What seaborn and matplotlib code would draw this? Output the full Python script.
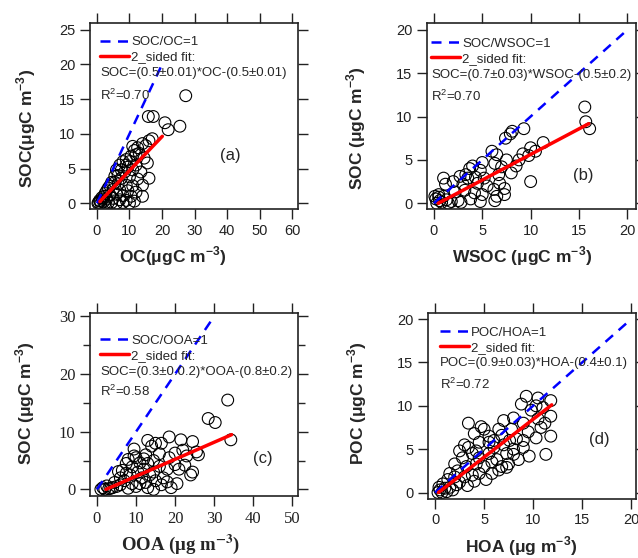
import numpy as np
import matplotlib
matplotlib.use("Agg")
import matplotlib.pyplot as plt
import seaborn as sns
from matplotlib.lines import Line2D
from matplotlib.ticker import MultipleLocator

# ---- data ----
# (a) SOC vs OC
oc_x = [27.3, 15.8, 17.3, 20.9, 21.9, 25.5, 17.0, 16.0, 14.0, 15.0, 11.0, 11.5, 13.0, 12.0, 9.0, 8.0,
        10.0, 14.5, 15.5, 7.0, 9.5, 12.0, 6.0, 8.5, 11.0, 13.5, 5.5, 7.5, 10.0, 12.5, 16.0, 4.5, 6.5,
        9.0, 11.0, 14.0, 3.5, 5.0, 7.0, 9.5, 12.0, 2.5, 4.0, 6.0, 8.0, 10.5, 14.0, 1.5, 3.0, 5.0, 7.0,
        9.0, 11.5, 1.0, 2.0, 3.5, 0.5, 0.8, 1.2, 2.5, 4.5, 6.0, 8.0, 10.0, 0.3, 1.8, 3.0, 2.2, 4.0,
        5.5, 6.5, 7.5, 9.0, 10.5, 12.5]
oc_soc = [15.5, 12.5, 12.5, 11.6, 10.6, 11.1, 9.3, 9.0, 8.6, 8.3, 8.2, 7.6, 7.2, 7.0, 6.3, 6.0,
          6.0, 6.5, 5.8, 5.5, 5.2, 5.5, 4.8, 4.5, 4.8, 4.5, 3.9, 3.6, 3.8, 3.5, 3.6, 3.0, 2.8,
          2.6, 2.5, 2.6, 2.2, 2.0, 1.9, 1.8, 1.6, 1.4, 1.2, 1.3, 1.1, 1.0, 1.0, 0.8, 0.6, 0.7, 0.5,
          0.4, 0.3, 0.3, 0.2, 0.1, 0.1, 0.4, 0.0, 0.0, 0.1, 0.0, 0.1, 0.0, 0.0, 0.6, 1.8, 1.0, 2.5,
          3.0, 4.0, 4.8, 5.5, 6.8, 8.0]

# (b) SOC vs WSOC
wsoc_x = [15.6, 15.7, 16.1, 9.3, 8.1, 7.9, 7.4, 11.3, 10.0, 10.5, 9.2, 6.0, 6.5, 7.5, 8.8, 9.8,
          5.0, 4.0, 3.7, 4.8, 6.3, 7.0, 8.5, 2.7, 3.3, 3.5, 4.3, 5.2, 6.7, 8.0, 1.0, 1.2, 2.0, 3.0,
          4.5, 5.5, 6.8, 7.3, 10.0, 0.5, 1.0, 2.2, 3.2, 4.2, 5.0, 6.2, 6.5, 7.3, 0.2, 0.6, 1.3, 1.8,
          2.5, 3.8, 4.8, 6.3, 0.3, 0.8, 1.5, 2.8, 0.5, 0.1]
wsoc_soc = [11.1, 9.4, 8.6, 8.6, 8.3, 8.0, 7.5, 7.0, 6.4, 6.0, 5.7, 6.0, 5.6, 5.0, 5.0, 5.5,
            4.7, 4.3, 4.0, 3.8, 4.6, 4.2, 4.3, 3.1, 3.3, 2.9, 3.0, 2.9, 3.3, 3.5, 2.9, 2.2, 2.5, 2.2,
            2.3, 2.0, 2.3, 1.7, 2.5, 1.0, 0.8, 1.3, 1.5, 1.2, 1.0, 1.6, 0.8, 1.0, 0.5, 0.3, 0.4, 0.2,
            0.3, 0.5, 0.2, 0.3, 0.0, 0.1, 0.0, 0.1, 0.7, 0.8]

# (c) SOC vs OOA
ooa_x = [33.5, 28.5, 30.3, 34.3, 24.5, 21.5, 18.5, 13.0, 15.0, 16.5, 14.0, 25.5, 22.0, 23.0, 26.0,
         24.5, 24.0, 21.0, 20.0, 18.0, 17.0, 20.5, 19.0, 9.5, 8.0, 10.0, 12.5, 11.0, 7.5, 9.0, 6.5,
         5.5, 8.5, 10.5, 12.0, 13.5, 14.5, 16.0, 15.0, 12.5, 11.0, 9.0, 7.0, 6.0, 5.0, 8.0, 10.0,
         13.0, 14.5, 16.5, 18.0, 4.0, 3.0, 2.0, 1.5, 2.5, 3.5, 1.0, 4.5, 6.0, 7.5, 11.5, 13.0, 14.5,
         16.0, 12.0, 9.5, 18.5, 20.0, 22.5]
ooa_soc = [15.5, 12.3, 11.6, 8.6, 8.3, 8.6, 9.1, 8.5, 8.0, 8.0, 7.5, 6.5, 6.8, 5.8, 6.0,
           3.0, 2.5, 3.5, 4.3, 3.5, 2.0, 1.0, 0.3, 5.8, 5.2, 5.5, 6.0, 4.6, 4.5, 3.9, 3.3,
           3.1, 2.5, 3.0, 3.5, 2.5, 3.0, 4.0, 1.5, 1.2, 1.0, 1.0, 1.5, 0.8, 0.5, 0.2, 0.5,
           0.3, 0.0, 0.8, 1.3, 0.3, 0.1, 0.0, 0.3, 0.6, 0.2, 0.0, 1.2, 2.0, 2.8, 2.0, 4.5, 5.0,
           6.2, 5.3, 7.0, 5.5, 6.3, 4.2]

# (d) POC vs HOA
hoa_x = [9.3, 10.5, 11.8, 8.8, 10.3, 9.8, 11.0, 11.8, 7.0, 8.0, 9.0, 10.5, 11.2, 3.4, 4.7, 5.0,
         6.5, 7.8, 9.5, 10.8, 11.8, 10.3, 9.0, 4.0, 5.5, 6.8, 8.3, 3.0, 2.5, 3.4, 4.5, 5.5, 6.0,
         7.0, 8.0, 7.3, 9.6, 11.3, 2.0, 2.8, 3.8, 4.5, 5.5, 6.3, 7.5, 8.5, 1.5, 2.3, 3.2, 4.2,
         5.0, 5.8, 6.8, 7.3, 1.3, 2.0, 3.0, 3.8, 4.5, 5.8, 2.5, 3.3, 0.8, 1.0, 0.5, 0.7, 1.2,
         1.5, 0.3, 0.4, 1.8, 2.2, 4.0, 5.2, 6.5, 8.0, 9.0, 7.6, 6.0, 4.2]
hoa_poc = [11.1, 10.9, 10.6, 10.2, 10.0, 9.5, 9.8, 8.8, 8.3, 8.6, 8.0, 8.5, 8.0, 8.0, 7.6, 7.3,
           7.3, 7.3, 7.0, 7.5, 6.5, 6.3, 6.0, 6.8, 6.5, 6.6, 6.2, 5.5, 4.8, 5.2, 5.8, 5.8, 5.2,
           5.5, 5.0, 4.5, 4.2, 4.4, 3.3, 4.0, 4.5, 4.0, 4.5, 3.8, 3.3, 3.8, 2.2, 2.5, 3.0, 3.3,
           3.0, 3.5, 3.0, 2.9, 1.5, 1.8, 1.8, 2.0, 2.2, 2.2, 1.2, 0.8, 1.0, 0.5, 0.3, 0.0, 0.1,
           0.6, 0.0, 0.6, 0.3, 0.9, 1.3, 1.5, 2.6, 4.4, 5.2, 6.0, 6.0, 4.8]

# fit lines as drawn (slope, intercept, x range)
fit_a = (0.49, -0.2, 0.9, 20.1)
fit_b = (0.59, -0.27, 0.45, 16.0)
fit_c = (0.295, -0.68, 2.3, 34.5)
fit_d = (0.875, -0.3, 0.35, 11.9)
one_a, one_b, one_c, one_d = 19.6, 19.9, 29.3, 19.9   # extent of the 1:1 lines

panels = [
    dict(x=oc_x, y=oc_soc, fit=fit_a, one=one_a, pos=[0.141, 0.625, 0.326, 0.334],
         xlim=(-2.15, 61.8), ylim=(-0.87, 26.0), xt=10, yt=5, ymin=None, serif=False,
         leg=["SOC/OC=1", "2_sided fit:"], eq="SOC=(0.5±0.01)*OC-(0.5±0.01)", r2="0.70",
         lx=0.048, ly=[0.896, 0.816, 0.733, 0.613], tag="(a)", tagxy=(41, 6.9),
         xlabel="OC(μgC m$^{\\mathbf{-3}}$)", ylabel="SOC(μgC m$^{\\mathbf{-3}}$)",
         xlc=(0.40, -0.19), ylc=(-0.25, 0.435)),
    dict(x=wsoc_x, y=wsoc_soc, fit=fit_b, one=one_b, pos=[0.669, 0.625, 0.328, 0.334],
         xlim=(-0.73, 20.9), ylim=(-0.69, 20.8), xt=5, yt=5, ymin=None, serif=False,
         leg=["SOC/WSOC=1", "2_sided fit:"], eq="SOC=(0.7±0.03)*WSOC-(0.5±0.2)", r2="0.70",
         lx=0.02, ly=[0.892, 0.806, 0.72, 0.608], tag="(b)", tagxy=(15.4, 3.2),
         xlabel="WSOC (μgC m$^{\\mathbf{-3}}$)", ylabel="SOC (μgC m$^{\\mathbf{-3}}$)",
         xlc=(0.457, -0.19), ylc=(-0.28, 0.435)),
    dict(x=ooa_x, y=ooa_soc, fit=fit_c, one=one_c, pos=[0.141, 0.111, 0.326, 0.328],
         xlim=(-1.8, 51.5), ylim=(-1.16, 30.6), xt=10, yt=10, ymin=5, serif=True,
         leg=["SOC/OOA=1", "2_sided fit:"], eq="SOC=(0.3±0.0.2)*OOA-(0.8±0.2)", r2="0.58",
         lx=0.048, ly=[0.849, 0.765, 0.678, 0.574], tag="(c)", tagxy=(42.6, 5.4),
         xlabel="OOA (μg m$^{\\mathbf{-3}}$)", ylabel="SOC (μgC m$^{\\mathbf{-3}}$)",
         xlc=(0.433, -0.20), ylc=(-0.255, 0.51)),
    dict(x=hoa_x, y=hoa_poc, fit=fit_d, one=one_d, pos=[0.671, 0.106, 0.326, 0.333],
         xlim=(-0.71, 20.5), ylim=(-0.73, 20.7), xt=5, yt=5, ymin=None, serif=False,
         leg=["POC/HOA=1", "2_sided fit:"], eq="POC=(0.9±0.03)*HOA-(0.4±0.1)", r2="0.72",
         lx=0.058, ly=[0.894, 0.813, 0.729, 0.618], tag="(d)", tagxy=(16.8, 6.1),
         xlabel="HOA (μg m$^{\\mathbf{-3}}$)", ylabel="POC (μgC m$^{\\mathbf{-3}}$)",
         xlc=(0.447, -0.19), ylc=(-0.284, 0.516)),
]

sns.set_style("ticks")
plt.rcParams["font.family"] = ["Liberation Sans", "DejaVu Sans"]
plt.rcParams["mathtext.fontset"] = "custom"
plt.rcParams["mathtext.rm"] = "Liberation Sans"
plt.rcParams["mathtext.bf"] = "Liberation Sans:bold"

fig = plt.figure(figsize=(6.38, 5.58), dpi=100)

for p in panels:
    ax = fig.add_axes(p["pos"])
    sns.scatterplot(x=p["x"], y=p["y"], ax=ax, s=72, facecolor="none",
                    edgecolor="black", linewidth=0.8, legend=False, zorder=2)

    # 1:1 line and 2-sided fit
    xs = np.array([0, p["one"]])
    ax.plot(xs, xs, color="#0000ff", lw=1.8, ls=(0, (4, 3)), zorder=3)
    k, b, x0, x1 = p["fit"]
    xf = np.array([x0, x1])
    ax.plot(xf, k * xf + b, color="#ff0000", lw=2.5, zorder=4)

    ax.set_xlim(*p["xlim"])
    ax.set_ylim(*p["ylim"])
    ax.xaxis.set_major_locator(MultipleLocator(p["xt"]))
    ax.yaxis.set_major_locator(MultipleLocator(p["yt"]))
    if p["ymin"]:
        ax.yaxis.set_minor_locator(MultipleLocator(p["ymin"]))
        ax.tick_params(axis="y", which="minor", direction="out", length=5, width=1,
                       left=True, right=True)
    ax.tick_params(which="major", direction="out", length=7, width=1,
                   top=True, right=True, labelsize=10.5, colors="#222222")
    for s in ax.spines.values():
        s.set_linewidth(1.2)
        s.set_color("#222222")

    tick_font = "Liberation Serif" if p["serif"] else "Liberation Sans"
    lab_math = "stix" if p["serif"] else "custom"
    for t in ax.get_xticklabels() + ax.get_yticklabels():
        t.set_fontfamily(tick_font)
        if p["serif"]:
            t.set_fontsize(12)

    ax.set_xlabel(p["xlabel"], fontsize=13.5 if p["serif"] else 12.5, fontweight="bold",
                  family=tick_font, math_fontfamily=lab_math)
    ax.set_ylabel(p["ylabel"], fontsize=12.5, fontweight="bold", family="Liberation Sans")
    ax.xaxis.set_label_coords(*p["xlc"])
    ax.yaxis.set_label_coords(*p["ylc"])

    handles = [Line2D([], [], color="#0000ff", lw=1.8, ls=(0, (4, 3))),
               Line2D([], [], color="#ff0000", lw=2.5)]
    ax.legend(handles, p["leg"], loc="center left",
              bbox_to_anchor=(p["lx"], (p["ly"][0] + p["ly"][1]) / 2),
              frameon=False, fontsize=9.5, handlelength=2.2, handletextpad=0.15,
              labelspacing=0.22, borderpad=0, borderaxespad=0)
    ax.text(p["lx"], p["ly"][2], p["eq"], transform=ax.transAxes, fontsize=9.5,
            va="center", ha="left")
    ax.text(p["lx"], p["ly"][3], "R$^2$=" + p["r2"], transform=ax.transAxes,
            fontsize=9.5, va="center", ha="left")
    ax.text(*p["tagxy"], p["tag"], fontsize=12, ha="center", va="center")

fig.savefig("out.png", dpi=100)
